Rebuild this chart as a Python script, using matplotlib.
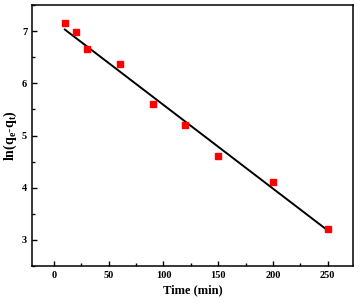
import numpy as np
import matplotlib
matplotlib.use('Agg')
from matplotlib import pyplot as plt
from matplotlib.ticker import MultipleLocator

time_min = [10, 20, 30, 60, 90, 120, 150, 200, 250]
ln_qe_qt = [7.15, 6.98, 6.65, 6.37, 5.60, 5.20, 4.60, 4.10, 3.20]
# fitted line as drawn in the original
fit_slope = -0.01604
fit_intercept = 7.19

plt.rcParams['font.family'] = ['Liberation Serif', 'DejaVu Serif']
plt.rcParams['font.weight'] = 'bold'
plt.rcParams['mathtext.fontset'] = 'custom'
plt.rcParams['mathtext.rm'] = 'Liberation Serif:bold'
plt.rcParams['mathtext.it'] = 'Liberation Serif:bold'
plt.rcParams['mathtext.bf'] = 'Liberation Serif:bold'

fig = plt.figure(figsize=(3.63, 3.06), dpi=100)
ax = fig.add_axes([32/363, 1 - 266/306, (353-32)/363, (266-5)/306])

x = np.array(time_min, dtype=float)
y = np.array(ln_qe_qt)
xf = np.array([x.min(), x.max()])
ax.plot(xf, fit_slope*xf + fit_intercept, color='k', lw=1.4, zorder=2)
ax.plot(x, y, 's', color='#ff0000', ms=5, mec='#ff0000', zorder=3)

ax.set_xlim(-20, 273)
ax.set_ylim(2.5, 7.5)
ax.xaxis.set_major_locator(MultipleLocator(50))
ax.xaxis.set_minor_locator(MultipleLocator(25))
ax.yaxis.set_major_locator(MultipleLocator(1))
ax.yaxis.set_minor_locator(MultipleLocator(0.5))
ax.tick_params(which='both', direction='in', top=False, right=False, labelsize=7.5, width=1)
ax.tick_params(which='major', length=3.5)
ax.tick_params(which='minor', length=2)
for s in ax.spines.values():
    s.set_linewidth(1.1)

ax.set_xlabel('Time (min)', fontsize=9, fontweight='bold', labelpad=3)
ax.set_ylabel(r'ln(q$_\mathrm{e}$-q$_\mathrm{t}$)', fontsize=10, fontweight='bold', labelpad=2)

fig.savefig('out.png', dpi=100)
